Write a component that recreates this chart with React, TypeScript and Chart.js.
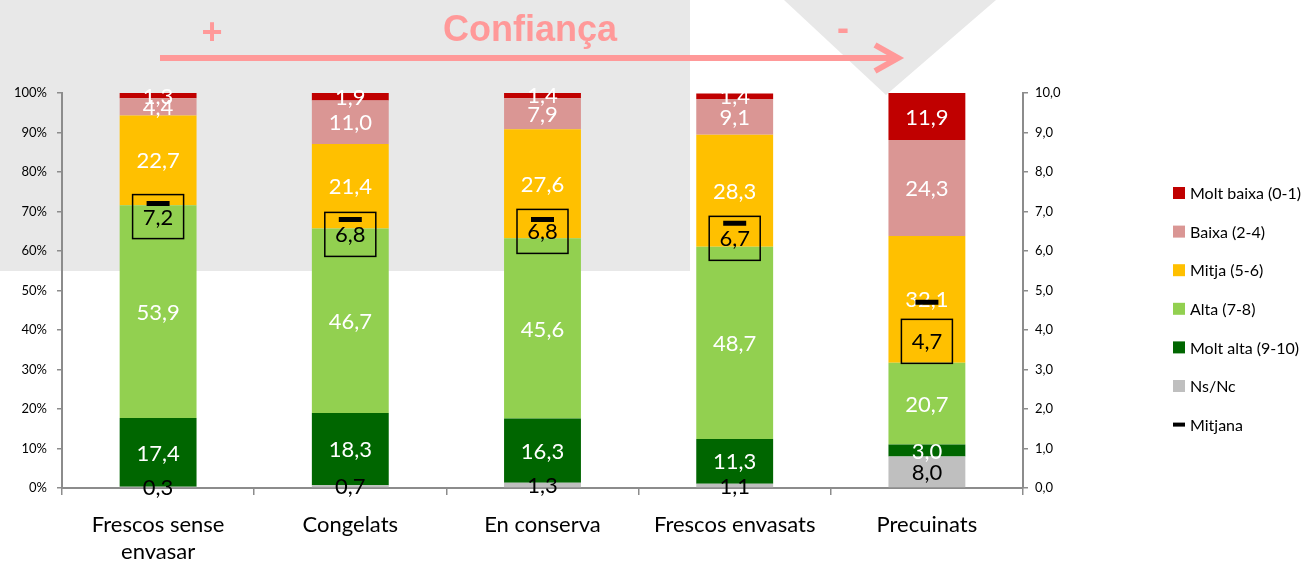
import React, { useEffect, useRef } from "react";
import { Chart, registerables } from "chart.js";

Chart.register(...registerables);

const categories: (string | string[])[] = [["Frescos sense", "envasar"], "Congelats", "En conserva", "Frescos envasats", "Precuinats"];
const nsNc = [0.3, 0.7, 1.3, 1.1, 8.0];
const moltAlta = [17.4, 18.3, 16.3, 11.3, 3.0];
const alta = [53.9, 46.7, 45.6, 48.7, 20.7];
const mitja = [22.7, 21.4, 27.6, 28.3, 32.1];
const baixa = [4.4, 11.0, 7.9, 9.1, 24.3];
const moltBaixa = [1.3, 1.9, 1.4, 1.4, 11.9];
const mitjana = [7.2, 6.8, 6.8, 6.7, 4.7];

const seriesNames = ["Ns/Nc", "Molt alta (9-10)", "Alta (7-8)", "Mitja (5-6)", "Baixa (2-4)", "Molt baixa (0-1)"];
const seriesColors = ["#BFBFBF", "#006600", "#92D050", "#FFC000", "#DA9694", "#C00000"];
const seriesData = [nsNc, moltAlta, alta, mitja, baixa, moltBaixa];
const meanName = "Mitjana";

const FONT = "Lato, 'Noto Sans', sans-serif";
const fmt = (v: number) => v.toFixed(1).replace(".", ",");

const meanLabelShift = [13, 15, 12, 15, 39];

const bgPlugin = {
  id: "bgDecor",
  beforeDraw(chart: any) {
    const ctx = chart.ctx;
    ctx.save();
    ctx.fillStyle = "#E8E8E8";
    ctx.fillRect(0, 0, 690, 271);
    ctx.beginPath();
    ctx.moveTo(784, 0);
    ctx.lineTo(996, 0);
    ctx.lineTo(886, 95);
    ctx.closePath();
    ctx.fill();
    ctx.strokeStyle = "#FF9999";
    ctx.lineWidth = 6;
    ctx.beginPath();
    ctx.moveTo(160, 58);
    ctx.lineTo(895, 58);
    ctx.stroke();
    ctx.lineJoin = "miter";
    ctx.beginPath();
    ctx.moveTo(875, 45);
    ctx.lineTo(898, 58);
    ctx.lineTo(875, 71);
    ctx.stroke();
    ctx.fillStyle = "#FF9999";
    ctx.font = "bold 36px 'Liberation Sans', Arial, sans-serif";
    ctx.textAlign = "center";
    ctx.textBaseline = "alphabetic";
    ctx.fillText("Confiança", 530, 41);
    ctx.fillText("+", 212, 44);
    ctx.fillText("-", 843, 40);
    ctx.restore();
  },
};

const labelsPlugin = {
  id: "segLabels",
  beforeDatasetDraw(chart: any, args: any) {
    if (args.meta.type !== "line") return;
    const ctx = chart.ctx;
    ctx.save();
    ctx.font = `22px ${FONT}`;
    ctx.textAlign = "center";
    ctx.textBaseline = "middle";
    for (let d = 0; d < seriesData.length; d++) {
      const meta = chart.getDatasetMeta(d);
      meta.data.forEach((bar: any, i: number) => {
        const v = seriesData[d][i];
        const cy = (bar.y + bar.base) / 2;
        ctx.fillStyle = d === 0 ? "#000000" : "#FFFFFF";
        ctx.fillText(fmt(v), bar.x, cy + 1);
      });
    }
    ctx.restore();
  },
  afterDatasetsDraw(chart: any) {
    const ctx = chart.ctx;
    const meta = chart.getDatasetMeta(seriesData.length);
    ctx.save();
    ctx.font = `22px ${FONT}`;
    ctx.textAlign = "center";
    ctx.textBaseline = "middle";
    meta.data.forEach((pt: any, i: number) => {
      const cy = pt.y + meanLabelShift[i];
      ctx.strokeStyle = "#000000";
      ctx.lineWidth = 1.5;
      ctx.strokeRect(pt.x - 25.5, cy - 22, 51, 44);
      ctx.fillStyle = "#000000";
      ctx.fillText(fmt(mitjana[i]), pt.x, cy + 1);
    });
    ctx.restore();
  },
  afterDraw(chart: any) {
    const ctx = chart.ctx;
    ctx.save();
    ctx.font = `16px ${FONT}`;
    ctx.textAlign = "left";
    ctx.textBaseline = "middle";
    const x0 = 1173;
    let y = 193;
    for (let d = seriesData.length - 1; d >= 0; d--) {
      ctx.fillStyle = seriesColors[d];
      ctx.fillRect(x0, y - 6, 12, 12);
      ctx.fillStyle = "#000000";
      ctx.fillText(seriesNames[d], x0 + 17, y + 1);
      y += 38.6;
    }
    ctx.fillStyle = "#000000";
    ctx.fillRect(x0, y - 2, 12, 4);
    ctx.fillText(meanName, x0 + 17, y + 1);
    ctx.restore();
  },
};

export default function App() {
  const ref = useRef<HTMLCanvasElement | null>(null);
  useEffect(() => {
    if (!ref.current) return;
    Chart.defaults.font.family = FONT;
    const datasets: any[] = seriesData.map((data, i) => ({
      type: "bar",
      label: seriesNames[i],
      data,
      backgroundColor: seriesColors[i],
      borderWidth: 0,
      yAxisID: "y",
      categoryPercentage: 0.8,
      barPercentage: 0.5,
      order: 1,
    }));
    datasets.push({
      type: "line",
      label: meanName,
      data: mitjana,
      yAxisID: "y1",
      showLine: false,
      pointStyle: "line",
      pointRadius: 11.5,
      pointHoverRadius: 11.5,
      pointBorderWidth: 5,
      borderColor: "#000000",
      backgroundColor: "#000000",
      order: 0,
    });
    const chart = new Chart(ref.current, {
      type: "bar",
      data: { labels: categories as any, datasets },
      options: {
        animation: false,
        responsive: true,
        maintainAspectRatio: false,
        layout: { padding: { top: 93, right: 227, bottom: 0, left: 0 } },
        plugins: { legend: { display: false }, tooltip: { enabled: false } },
        scales: {
          x: {
            stacked: true,
            offset: true,
            grid: { display: true, drawOnChartArea: false, drawTicks: true, tickLength: 7, offset: true, color: "#8C8C8C", lineWidth: 1.5 },
            border: { display: true, color: "#8C8C8C", width: 2 },
            ticks: { color: "#000000", font: { size: 22, family: FONT, lineHeight: 1.25 }, padding: 16, maxRotation: 0, autoSkip: false },
            afterFit: (s: any) => { s.height = 76; },
          },
          y: {
            stacked: true,
            position: "left",
            min: 0,
            max: 100,
            grid: { display: true, drawOnChartArea: false, drawTicks: true, tickLength: 5, color: "#8C8C8C", lineWidth: 1.5 },
            border: { display: true, color: "#8C8C8C", width: 2 },
            ticks: { stepSize: 10, color: "#000000", font: { size: 13, family: FONT }, padding: 10, callback: (v: any) => `${v}%` },
            afterFit: (s: any) => { s.width = 62; },
          },
          y1: {
            position: "right",
            min: 0,
            max: 10,
            stacked: false,
            grid: { display: true, drawOnChartArea: false, drawTicks: true, tickLength: 5, color: "#8C8C8C", lineWidth: 1.5 },
            border: { display: true, color: "#8C8C8C", width: 2 },
            ticks: { stepSize: 1, color: "#000000", font: { size: 13, family: FONT }, padding: 7, callback: (v: any) => fmt(Number(v)) },
            afterFit: (s: any) => { s.width = 60; },
          },
        },
      },
      plugins: [bgPlugin, labelsPlugin],
    } as any);
    return () => chart.destroy();
  }, []);
  return (
    <div style={{ position: "absolute", left: 0, top: 0, width: 1310, height: 564 }}>
      <canvas ref={ref} />
    </div>
  );
}
